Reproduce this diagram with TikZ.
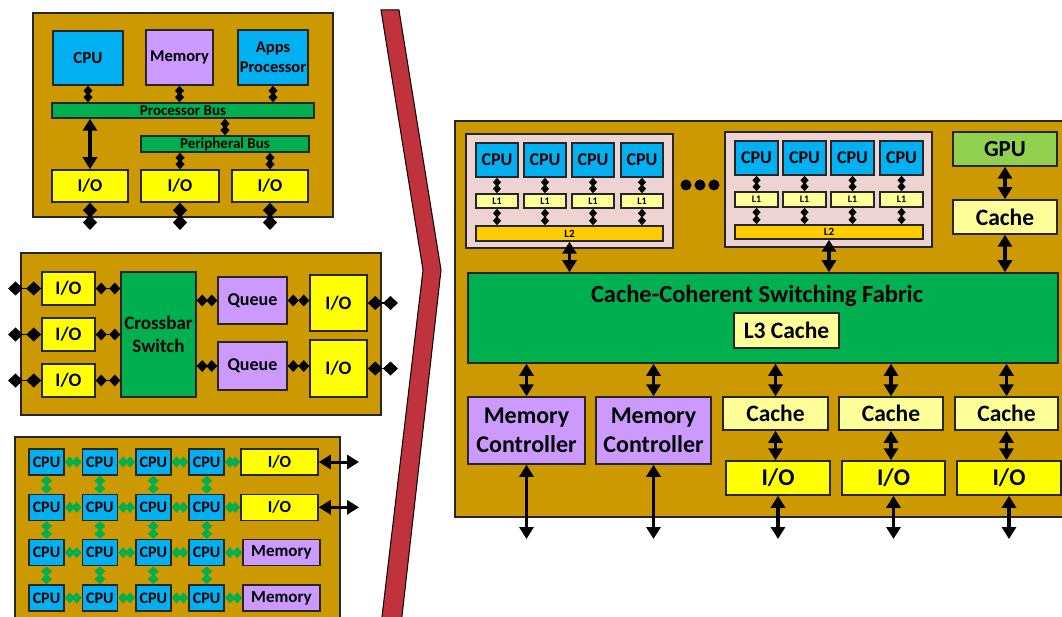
\documentclass[tikz,border=0pt]{standalone}
\usepackage{fontspec}
\setmainfont{Carlito}
\usetikzlibrary{arrows.meta}

\definecolor{board}{HTML}{CC9900}
\definecolor{cpublue}{HTML}{00B0F0}
\definecolor{mempurple}{HTML}{CC99FF}
\definecolor{ioyellow}{HTML}{FFFF00}
\definecolor{busgreen}{HTML}{00B050}
\definecolor{gpugreen}{HTML}{92D050}
\definecolor{paleyellow}{HTML}{FFFF99}
\definecolor{ltwo}{HTML}{FFCC00}
\definecolor{clpink}{HTML}{EDD4D3}
\definecolor{chevred}{HTML}{C0323C}

\newcommand{\fsz}[2]{\fontsize{#1}{#2}\selectfont\bfseries}

\begin{document}
\begin{tikzpicture}[x=1pt, y=-1pt,
		blk/.style={shape=rectangle, draw=black!85, line width=1.5pt, inner sep=0pt, align=center},
		brd/.style={blk, fill=board, line width=1.6pt},
		dd/.style={line width=1.8pt, {Diamond[length=10pt, width=9pt]}-{Diamond[length=10pt, width=9pt]}},
		md/.style={line width=1.8pt, {Diamond[length=11pt, width=12pt]}-{Diamond[length=11pt, width=12pt]}},
		bd/.style={line width=1.8pt, {Diamond[length=15pt, width=14pt]}-{Diamond[length=15pt, width=14pt]}},
		gd/.style={busgreen, line width=2.2pt, {Diamond[length=10pt, width=11pt]}-{Diamond[length=10pt, width=11pt]}},
		sd/.style={line width=1.5pt, {Diamond[length=9pt, width=8pt]}-{Diamond[length=9pt, width=8pt]}},
		tt/.style={line width=3.5pt, {Triangle[length=12pt, width=14pt]}-{Triangle[length=12pt, width=14pt]}}]
	\useasboundingbox (0, 0) rectangle (1062, 617);
	\clip (0, 0) rectangle (1062, 617);

	% bus based system
	\node[brd, minimum width=300, minimum height=204](PA) at (183, 115){};
	\node[blk, fill=cpublue, minimum width=70, minimum height=54, font=\fsz{17}{20}](A1) at (88, 58){CPU};
	\node[blk, fill=mempurple, minimum width=67, minimum height=55, font=\fsz{16.5}{20}](A2) at (179.5, 57.5){Memory};
	\node[blk, fill=cpublue, minimum width=70, minimum height=55, font=\fsz{16.5}{20}](A3) at (273, 57.5){Apps\\Processor};
	\node[blk, fill=busgreen, minimum width=262, minimum height=15, font=\fsz{15}{15}](A4) at (183, 110.5){Processor Bus};
	\node[blk, fill=busgreen, minimum width=168, minimum height=16, font=\fsz{15}{15}](A5) at (225, 144){Peripheral Bus};
	\node[blk, fill=ioyellow, minimum width=76, minimum height=32, font=\fsz{18}{20}](A6) at (90, 186){I/O};
	\node[blk, fill=ioyellow, minimum width=78, minimum height=32, font=\fsz{18}{20}](A7) at (180, 186){I/O};
	\node[blk, fill=ioyellow, minimum width=76, minimum height=32, font=\fsz{18}{20}](A8) at (270, 186){I/O};
	\coordinate (XA6) at (90, 230);
	\coordinate (XA7) at (180, 230);
	\coordinate (XA8) at (270, 230);
	\draw[dd] (A1.south) -- (A1.south |- A4.north);
	\draw[dd] (A2.south) -- (A2.south |- A4.north);
	\draw[dd] (A3.south) -- (A3.south |- A4.north);
	\draw[dd] (A5.north) -- (A5.north |- A4.south);
	\draw[tt] (A6.north |- A4.south) -- (A6.north);
	\draw[dd] (A7.north |- A5.south) -- (A7.north);
	\draw[dd] (A8.north |- A5.south) -- (A8.north);
	\foreach \n in {A6, A7, A8}
		\draw[bd] (\n.south) -- (X\n);

	% crossbar
	\node[brd, minimum width=360, minimum height=162](PB) at (201, 334){};
	\node[blk, fill=ioyellow, minimum width=53, minimum height=33, font=\fsz{19}{22}](B1) at (68.5, 288.5){I/O};
	\node[blk, fill=ioyellow, minimum width=53, minimum height=33, font=\fsz{19}{22}](B2) at (68.5, 334.5){I/O};
	\node[blk, fill=ioyellow, minimum width=53, minimum height=33, font=\fsz{19}{22}](B3) at (68.5, 380.5){I/O};
	\node[blk, fill=busgreen, minimum width=75, minimum height=125, font=\fsz{19}{23}](B4) at (158.5, 334.5){Crossbar\\Switch};
	\node[blk, fill=mempurple, minimum width=69, minimum height=47, font=\fsz{18}{22}](B5) at (252.5, 300.5){Queue};
	\node[blk, fill=mempurple, minimum width=69, minimum height=48, font=\fsz{18}{22}](B6) at (252.5, 366){Queue};
	\node[blk, fill=ioyellow, minimum width=57, minimum height=56, font=\fsz{19}{22}](B7) at (338.5, 303){I/O};
	\node[blk, fill=ioyellow, minimum width=57, minimum height=57, font=\fsz{19}{22}](B8) at (338.5, 368.5){I/O};
	\coordinate (XB1) at (8, 288.5);
	\coordinate (XB2) at (8, 334.5);
	\coordinate (XB3) at (8, 380.5);
	\coordinate (XB7) at (398, 303);
	\coordinate (XB8) at (398, 368.5);
	\foreach \n in {B1, B2, B3} {
		\draw[bd] (X\n) -- (\n.west);
		\draw[md] (\n.east) -- (\n.east -| B4.west);
	}
	\foreach \n/\m in {B5/B7, B6/B8} {
		\draw[md] (\n.west -| B4.east) -- (\n.west);
		\draw[md] (\n.east) -- (\n.east -| \m.west);
		\draw[bd] (\m.east) -- (X\m);
	}

	% mesh
	\node[brd, minimum width=325, minimum height=200](PC) at (177.5, 537){};
	\foreach \r in {1, ..., 4}
		\foreach \c in {1, ..., 4}
			\node[blk, fill=cpublue, minimum width=35, minimum height=26, font=\fsz{16}{20}](C\r\c) at ({46.5+53.4*(\c-1)}, {462+45.3*(\r-1)}){CPU};
	\node[blk, fill=ioyellow, minimum width=77, minimum height=26, font=\fsz{17}{20}](C5) at (279.5, 462){I/O};
	\node[blk, fill=ioyellow, minimum width=77, minimum height=26, font=\fsz{17}{20}](C6) at (279.5, 507.3){I/O};
	\node[blk, fill=mempurple, minimum width=77, minimum height=26, font=\fsz{17}{20}](C7) at (281.5, 552.6){Memory};
	\node[blk, fill=mempurple, minimum width=77, minimum height=26, font=\fsz{17}{20}](C8) at (281.5, 597.9){Memory};
	\coordinate (XC5) at (359, 462);
	\coordinate (XC6) at (359, 507.3);
	\foreach \r in {1, ..., 4}
		\foreach \c/\d in {1/2, 2/3, 3/4}
			\draw[gd] (C\r\c.east) -- (C\r\d.west);
	\foreach \r/\s in {1/2, 2/3, 3/4}
		\foreach \c in {1, ..., 4}
			\draw[gd] (C\r\c.south) -- (C\s\c.north);
	\foreach \r/\n in {1/C5, 2/C6, 3/C7, 4/C8}
		\draw[gd] (C\r4.east) -- (C\r4.east -| \n.west);
	\draw[tt, line width=3pt] (C5.east) -- (XC5);
	\draw[tt, line width=3pt] (C6.east) -- (XC6);

	\draw[fill=chevred, line width=1pt] (381, 10) -- (399, 10) -- (441, 270) -- (401, 625) -- (381, 625) -- (423, 270) -- cycle;

	% multicore SoC
	\node[brd, minimum width=620, minimum height=396](PD) at (765, 319){};
	\node[blk, fill=clpink, minimum width=207, minimum height=114](KA) at (569.5, 191){};
	\node[blk, fill=ltwo, minimum width=187, minimum height=15, font=\fsz{11}{12}](KA5) at (569.5, 233.5){L2};
	\foreach \i/\x in {1/497, 2/545, 3/593, 4/642} {
		\node[blk, fill=cpublue, minimum width=42, minimum height=34, font=\fsz{18}{20}](KA\i) at (\x, 160){CPU};
		\node[blk, fill=paleyellow, minimum width=42, minimum height=14, font=\fsz{10}{11}](LA\i) at (\x, 201){L1};
		\draw[sd] (KA\i.south) -- (LA\i.north);
		\draw[sd] (LA\i.south) -- (LA\i.south |- KA5.north);
	}
	\node[blk, fill=clpink, minimum width=207, minimum height=115](KB) at (828.5, 189.5){};
	\node[blk, fill=ltwo, minimum width=188, minimum height=14, font=\fsz{11}{12}](KB5) at (829, 232){L2};
	\foreach \i/\x in {1/756.5, 2/804.5, 3/852.5, 4/901.5} {
		\node[blk, fill=cpublue, minimum width=43, minimum height=34, font=\fsz{18}{20}](KB\i) at (\x, 158){CPU};
		\node[blk, fill=paleyellow, minimum width=43, minimum height=15, font=\fsz{10}{11}](LB\i) at (\x, 199.5){L1};
		\draw[sd] (KB\i.south) -- (LB\i.north);
		\draw[sd] (LB\i.south) -- (LB\i.south |- KB5.north);
	}
	\foreach \x in {686, 700, 714}
		\fill (\x, 185) circle (5.5);
	\node[blk, fill=gpugreen, minimum width=104, minimum height=34, font=\fsz{23}{26}](G1) at (1005, 149){GPU};
	\node[blk, fill=paleyellow, minimum width=104, minimum height=34, font=\fsz{23.5}{26}](G2) at (1005, 217){Cache};
	\node[blk, fill=busgreen, minimum width=590, minimum height=90](F) at (763, 318){};
	\node[font=\fsz{24.5}{28}](F1) at (757, 296){Cache-Coherent Switching Fabric};
	\node[blk, fill=paleyellow, minimum width=105, minimum height=35, font=\fsz{23.5}{26}](F2) at (786.5, 330.5){L3 Cache};
	\draw[tt] (G1.south) -- (G2.north);
	\draw[tt] (KA5.south) -- (KA5.south |- F.north);
	\draw[tt] (KB5.south) -- (KB5.south |- F.north);
	\draw[tt] (G2.south) -- (G2.south |- F.north);

	\node[blk, fill=mempurple, minimum width=117, minimum height=67, font=\fsz{24}{29}](M1) at (526.5, 430.5){Memory\\Controller};
	\node[blk, fill=mempurple, minimum width=115, minimum height=67, font=\fsz{24}{29}](M2) at (653.5, 430.5){Memory\\Controller};
	\node[blk, fill=paleyellow, minimum width=105, minimum height=33, font=\fsz{23.5}{26}](H1) at (775.5, 413.5){Cache};
	\node[blk, fill=paleyellow, minimum width=104, minimum height=33, font=\fsz{23.5}{26}](H2) at (891, 413.5){Cache};
	\node[blk, fill=paleyellow, minimum width=103, minimum height=33, font=\fsz{23.5}{26}](H3) at (1006.5, 413.5){Cache};
	\node[blk, fill=ioyellow, minimum width=104, minimum height=34, font=\fsz{24}{26}](J1) at (778, 478){I/O};
	\node[blk, fill=ioyellow, minimum width=103, minimum height=34, font=\fsz{24}{26}](J2) at (893.5, 478){I/O};
	\node[blk, fill=ioyellow, minimum width=104, minimum height=34, font=\fsz{24}{26}](J3) at (1009, 478){I/O};
	\coordinate (XM1) at (526.5, 539);
	\coordinate (XM2) at (653.5, 539);
	\coordinate (XJ1) at (778, 539);
	\coordinate (XJ2) at (893.5, 539);
	\coordinate (XJ3) at (1009, 539);
	\foreach \n in {M1, M2, H1, H2, H3}
		\draw[tt] (\n.north |- F.south) -- (\n.north);
	\foreach \i in {1, 2, 3}
		\draw[tt] (H\i.south) -- (H\i.south |- J\i.north);
	\foreach \n in {M1, M2, J1, J2, J3}
		\draw[tt] (\n.south) -- (X\n);
\end{tikzpicture}
\end{document}
